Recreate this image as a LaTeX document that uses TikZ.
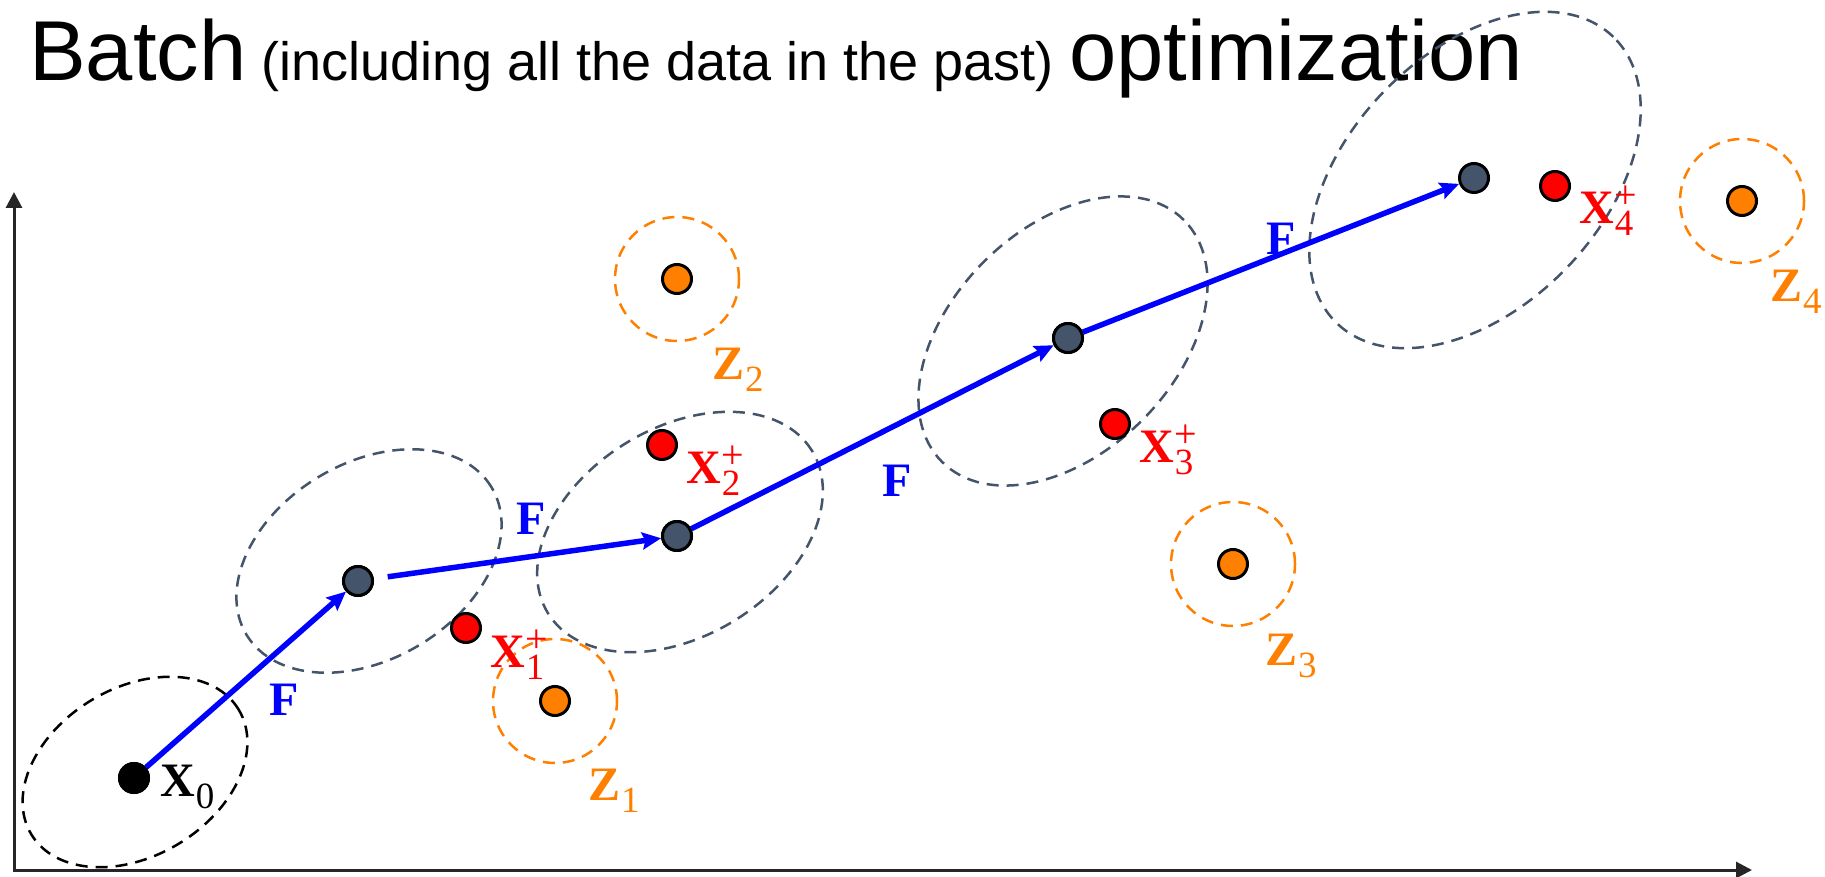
\documentclass[tikz,border=0pt]{standalone}
\usepackage{fontspec}
\newfontfamily\titlefont{Liberation Sans}
\newfontfamily\labfont{Liberation Serif}
\usetikzlibrary{arrows.meta}
\definecolor{stategray}{HTML}{44546A}
\definecolor{ptorange}{HTML}{FF8000}
% bold letter with index below and mark above
\newcommand{\ptlab}[3]{\textbf{#1}\kern1pt\rlap{\raisebox{15pt}{\fontsize{40}{40}\selectfont#3}}\raisebox{-12pt}{\fontsize{37}{37}\selectfont#2}}

\begin{document}
\begin{tikzpicture}[x=1pt, y=1pt,
    dotpt/.style={circle, draw=black, line width=3pt, minimum size=29pt, inner sep=0pt},
    initpt/.style={dotpt, fill=black},
    statept/.style={dotpt, fill=stategray},
    measpt/.style={dotpt, fill=red},
    lmpt/.style={dotpt, fill=ptorange},
    covell/.style={draw=stategray, line width=2.5pt, dash pattern=on 12pt off 8pt},
    zcirc/.style={draw=ptorange, line width=2.5pt, dash pattern=on 12pt off 8pt},
    farr/.style={-{Stealth[length=19pt,width=17pt,inset=3pt]}, blue, line width=5.5pt},
    axarr/.style={{Triangle[length=16pt,width=16pt]}-{Triangle[length=16pt,width=16pt]},
                  black!85, line width=3pt},
    lab/.style={anchor=base west, inner sep=0pt, font=\labfont\fontsize{48}{52}\selectfont},
    xlab/.style={lab, red},
    zlab/.style={lab, ptorange},
    flab/.style={lab, blue}
  ]
    \useasboundingbox (0,0) rectangle (1825,876);

    % title
    \node[anchor=base west, inner sep=0pt, font=\titlefont\fontsize{85}{90}\selectfont]
      (title) at (29,795) {Batch{\fontsize{54}{60}\selectfont\ (including all the data in the past)\ }optimization};

    % axes
    \coordinate (origin) at (14,6);
    \coordinate (ytip)   at (14,684);
    \coordinate (xtip)   at (1752,6);
    \draw[axarr] (ytip) -- (origin) -- (xtip);

    % uncertainty ellipses
    \draw[covell, draw=black, rotate around={31:(135,104)}] (135,104) ellipse [x radius=121, y radius=84];
    \draw[covell, rotate around={31:(369,315)}]   (369,315)   ellipse [x radius=143, y radius=98];
    \draw[covell, rotate around={31.6:(680,344)}] (680,344)   ellipse [x radius=155, y radius=104];
    \draw[covell, rotate around={45:(1063,535)}]  (1063,535)  ellipse [x radius=171, y radius=112];
    \draw[covell, rotate around={46:(1475,696)}]  (1475,696)  ellipse [x radius=199, y radius=127];

    % landmark circles
    \draw[zcirc] (555,175) circle [radius=62];
    \draw[zcirc] (677,597) circle [radius=62];
    \draw[zcirc] (1233,312) circle [radius=62];
    \draw[zcirc] (1742,675) circle [radius=62];

    % points
    \node[initpt]  (x0) at (134,98)   {};
    \node[statept] (s1) at (358,295)  {};
    \node[statept] (s2) at (677,340)  {};
    \node[statept] (s3) at (1068,538) {};
    \node[statept] (s4) at (1474,698) {};
    \node[measpt]  (p1) at (466,248)  {};
    \node[measpt]  (p2) at (662,431)  {};
    \node[measpt]  (p3) at (1115,452) {};
    \node[measpt]  (p4) at (1555,690) {};
    \node[lmpt]    (z1) at (555,175)  {};
    \node[lmpt]    (z2) at (677,597)  {};
    \node[lmpt]    (z3) at (1233,312) {};
    \node[lmpt]    (z4) at (1742,675) {};

    % motion model
    \draw[farr] (x0) -- (s1);
    \draw[farr, shorten <=14pt] (s1) -- (s2);
    \draw[farr] (s2) -- (s3);
    \draw[farr] (s3) -- (s4);
    \node[initpt]  at (x0) {};
    \node[statept] at (s1) {};
    \node[statept] at (s2) {};
    \node[statept] at (s3) {};

    % labels
    \node[lab]  (x0lab) at (160,80)   {\ptlab{X}{0}{}};
    \node[xlab] (p1lab) at (490,209)  {\ptlab{X}{1}{+}};
    \node[xlab] (p2lab) at (686,392)  {\ptlab{X}{2}{+}};
    \node[xlab] (p3lab) at (1139,413) {\ptlab{X}{3}{+}};
    \node[xlab] (p4lab) at (1579,652) {\ptlab{X}{4}{+}};
    \node[zlab] (z1lab) at (588,76)   {\ptlab{Z}{1}{}};
    \node[zlab] (z2lab) at (712,496)  {\ptlab{Z}{2}{}};
    \node[zlab] (z3lab) at (1265,211) {\ptlab{Z}{3}{}};
    \node[zlab] (z4lab) at (1770,574) {\ptlab{Z}{4}{}};
    \node[flab] (f1lab) at (269,161)  {\textbf{F}};
    \node[flab] (f2lab) at (516,341)  {\textbf{F}};
    \node[flab] (f3lab) at (882,379)  {\textbf{F}};
    \node[flab] (f4lab) at (1266,621) {\textbf{F}};
  \end{tikzpicture}
\end{document}
